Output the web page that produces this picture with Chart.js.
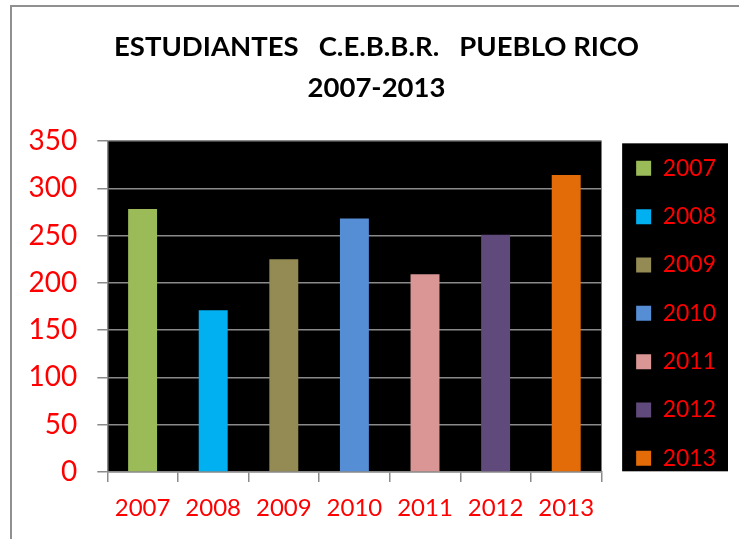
<!DOCTYPE html>
<html>
<head>
<meta charset="utf-8">
<script src="https://cdn.jsdelivr.net/npm/chart.js@4"></script>
<style>
  html, body { margin: 0; padding: 0; background: #fff; overflow: hidden; }
  #frame { position: absolute; left: 10px; top: 5px; width: 800px; height: 600px;
           border-left: 2px solid #909090; border-top: 2px solid #909090; }
  #wrap { position: absolute; left: 0; top: 0; width: 739px; height: 539px; }
</style>
</head>
<body>
<div id="frame"></div>
<div id="wrap"><canvas id="c" width="739" height="539"></canvas></div>
<script>
const categories = ['2007', '2008', '2009', '2010', '2011', '2012', '2013'];
const students = [278, 171, 225, 268, 209, 251, 314];
const barColors = ['#9BBB59', '#00B0F0', '#948A54', '#558ED5', '#D99694', '#604A7B', '#E36C09'];
const yTicks = [0, 50, 100, 150, 200, 250, 300, 350];
const titleLines = ['ESTUDIANTES   C.E.B.B.R.   PUEBLO RICO', '2007-2013'];

const FONT = 'Lato, "Open Sans", sans-serif';
const RED = '#FF0000';
const GRID = '#8a8a8a';
const LEG_FONT = 23;
const LEG_PAD = 25.33;
const LEG_TITLE = 131.5;

const bgPlugin = {
  id: 'bg',
  beforeDraw(chart) {
    const { ctx, chartArea: a, legend } = chart;
    ctx.save();
    ctx.fillStyle = '#000';
    ctx.fillRect(a.left, a.top, a.right - a.left, a.bottom - a.top);
    if (legend) {
      const itemsTop = legend.top + LEG_TITLE + LEG_PAD;
      const x0 = legend.left + LEG_PAD - 14;
      const x1 = legend.right + 2;
      const y0 = itemsTop - 13.5;
      const y1 = itemsTop + categories.length * (LEG_FONT + LEG_PAD) - LEG_PAD + 1.5;
      ctx.fillRect(x0, y0, x1 - x0, y1 - y0);
    }
    ctx.restore();
  }
};

new Chart(document.getElementById('c'), {
  type: 'bar',
  data: {
    labels: categories,
    datasets: [{
      label: 'Estudiantes',
      data: students,
      backgroundColor: barColors,
      borderWidth: 0,
      categoryPercentage: 1,
      barPercentage: 0.41
    }]
  },
  options: {
    responsive: false,
    animation: false,
    devicePixelRatio: 1,
    layout: { padding: { left: 27, right: 13, top: 0, bottom: 0 } },
    plugins: {
      tooltip: { enabled: false },
      title: {
        display: true,
        text: titleLines,
        color: '#000',
        font: { family: FONT, size: 27.5, weight: 'bold', lineHeight: 1.5 },
        padding: { top: 26.5, bottom: 32 }
      },
      legend: {
        display: true,
        position: 'right',
        align: 'start',
        title: { display: true, text: '', font: { size: 10, lineHeight: 1 }, padding: { top: LEG_TITLE - 10, bottom: 0 } },
        labels: {
          color: RED,
          font: { family: FONT, size: LEG_FONT },
          boxWidth: 15,
          boxHeight: 15,
          padding: LEG_PAD,
          generateLabels: (chart) => chart.data.labels.map((l, i) => ({
            text: l,
            fillStyle: barColors[i],
            strokeStyle: barColors[i],
            lineWidth: 0,
            hidden: false,
            index: i,
            fontColor: RED
          }))
        }
      }
    },
    scales: {
      x: {
        offset: true,
        grid: { display: true, drawOnChartArea: false, drawTicks: true, tickLength: 10, color: GRID, lineWidth: 1.5, offset: true },
        border: { display: true, color: GRID, width: 1.5 },
        ticks: { color: RED, font: { family: FONT, size: 24 }, padding: 12, maxRotation: 0 },
        afterFit: (s) => { s.height = 67; }
      },
      y: {
        min: 0,
        max: 350,
        afterBuildTicks: (s) => { s.ticks = yTicks.map(v => ({ value: v })); },
        grid: { color: GRID, lineWidth: 1.5, tickLength: 10, drawTicks: true },
        border: { display: true, color: GRID, width: 1.5 },
        ticks: { color: RED, font: { family: FONT, size: 28 }, padding: 20 },
        afterFit: (s) => { s.width = 80.3; }
      },
      gap: {
        type: 'linear',
        position: 'right',
        display: true,
        grid: { display: false, drawOnChartArea: false, drawTicks: false },
        border: { display: false },
        ticks: { display: false },
        afterFit: (s) => { s.width = 9.3; }
      }
    }
  },
  plugins: [bgPlugin]
});
</script>
</body>
</html>
